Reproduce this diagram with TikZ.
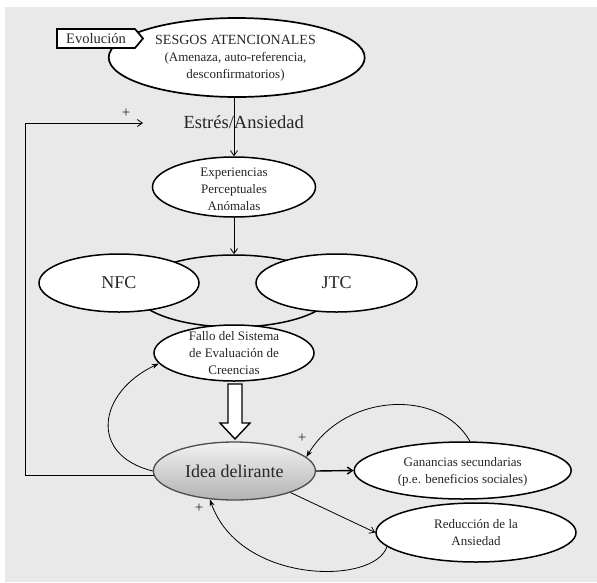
\documentclass[tikz,border=0pt]{standalone}
\usepackage{fontspec}
\setmainfont{Liberation Serif}
\usetikzlibrary{shapes.geometric,arrows.meta,calc}
\definecolor{bg}{HTML}{E9E9E9}
\definecolor{txt}{HTML}{262626}
\begin{document}
\begin{tikzpicture}[x=1pt,y=-1pt,
  ell/.style={ellipse, draw=black, line width=1.5pt, fill=white, inner sep=0pt},
  lbl/.style={align=center, text=txt, font=\fontsize{13}{16.8}\selectfont},
  big/.style={text=txt, font=\fontsize{18}{20}\selectfont},
  conn/.style={line width=0.8pt, -{Straight Barb[length=5pt,width=7pt]}},
  curv/.style={line width=0.8pt, -{Stealth[length=7pt,width=5pt]}},
  plus/.style={text=txt, font=\fontsize{15}{15}\selectfont}
]
\useasboundingbox (0,0) rectangle (597,582);
\fill[white] (0,0) rectangle (597,582);
\fill[bg] (5,7) rectangle (597,582);

% top ellipse and tag
\node[ell, line width=1.7pt, minimum width=256pt, minimum height=79pt] (sesgos) at (236.7,57.5) {};
\node[lbl] (sesgost) at (235.5,58.5) {{\fontsize{14}{16.8}\selectfont SESGOS ATENCIONALES}\\(Amenaza, auto-referencia,\\desconfirmatorios)};
\draw[line width=1.7pt, fill=white] (57,29) -- (135,29) -- (143,38.5) -- (135,48) -- (57,48) -- cycle;
\node[text=txt, font=\fontsize{14.5}{16}\selectfont, inner sep=0pt] (evol) at (96,38.5) {Evolución};

\node[text=txt, font=\fontsize{18.5}{20}\selectfont] (estres) at (243.7,122) {Estrés/Ansiedad};

\node[ell, minimum width=163pt, minimum height=60pt] (exper) at (234,187) {};
\node[lbl] (expert) at (234,189) {Experiencias\\Perceptuales\\Anómalas};

\node[ellipse, draw=black, line width=1.5pt, minimum width=198pt, minimum height=72pt] (bigell) at (234,291) {};
\node[ell, minimum width=160pt, minimum height=58pt, big] (nfc) at (119,283) {NFC};
\node[ell, minimum width=161pt, minimum height=58pt, big] (jtc) at (336.5,283) {JTC};
\node[ell, minimum width=160pt, minimum height=56pt] (fallo) at (234,353) {};
\node[lbl] (fallot) at (234,353) {Fallo del Sistema\\de Evaluación de\\Creencias};

\node[ellipse, draw=black!70, line width=1.3pt, top color=white!95!black, bottom color=black!30, inner sep=0pt,
      minimum width=162pt, minimum height=58pt, big] (idea) at (234.4,471) {Idea delirante};
\node[ell, minimum width=217pt, minimum height=57pt] (gan) at (462.7,470.5) {};
\node[lbl] (gant) at (462.7,471.5) {Ganancias secundarias\\(p.e. beneficios sociales)};
\node[ell, minimum width=200pt, minimum height=59pt] (red) at (476,532.5) {};
\node[lbl] (redt) at (476,532.5) {Reducción de la\\Ansiedad};

% hollow arrow
\draw[line width=1.4pt, fill=white] (228,384) -- (242,384) -- (242,423) -- (250,423) -- (235,439) -- (220,423) -- (228,423) -- cycle;

% connectors
\draw[conn] (exper.north |- sesgos.south) -- (exper.north);
\draw[conn] (exper.south) -- (bigell.north);
\draw[conn, line width=1.4pt] (idea.east) -- (gan.west);
\draw[conn] (idea.-21) -- (red.west);

\coordinate (fbt) at (25,123);
\coordinate (fbe) at (143,123);
\draw[conn] (idea.183) -| (fbt) -- (fbe);

\draw[curv] (idea.west) .. controls (88,455) and (98,392) .. (fallo.188);
\draw[curv] (gan.76) .. controls (440,388) and (345,393) .. (idea.11);
\draw[curv] (red.189) .. controls (375,585) and (240,585) .. (idea.229);

\node[plus] (p1) at (126,113) {+};
\node[plus] (p2) at (302,438) {+};
\node[plus] (p3) at (199,508) {+};
\end{tikzpicture}
\end{document}
